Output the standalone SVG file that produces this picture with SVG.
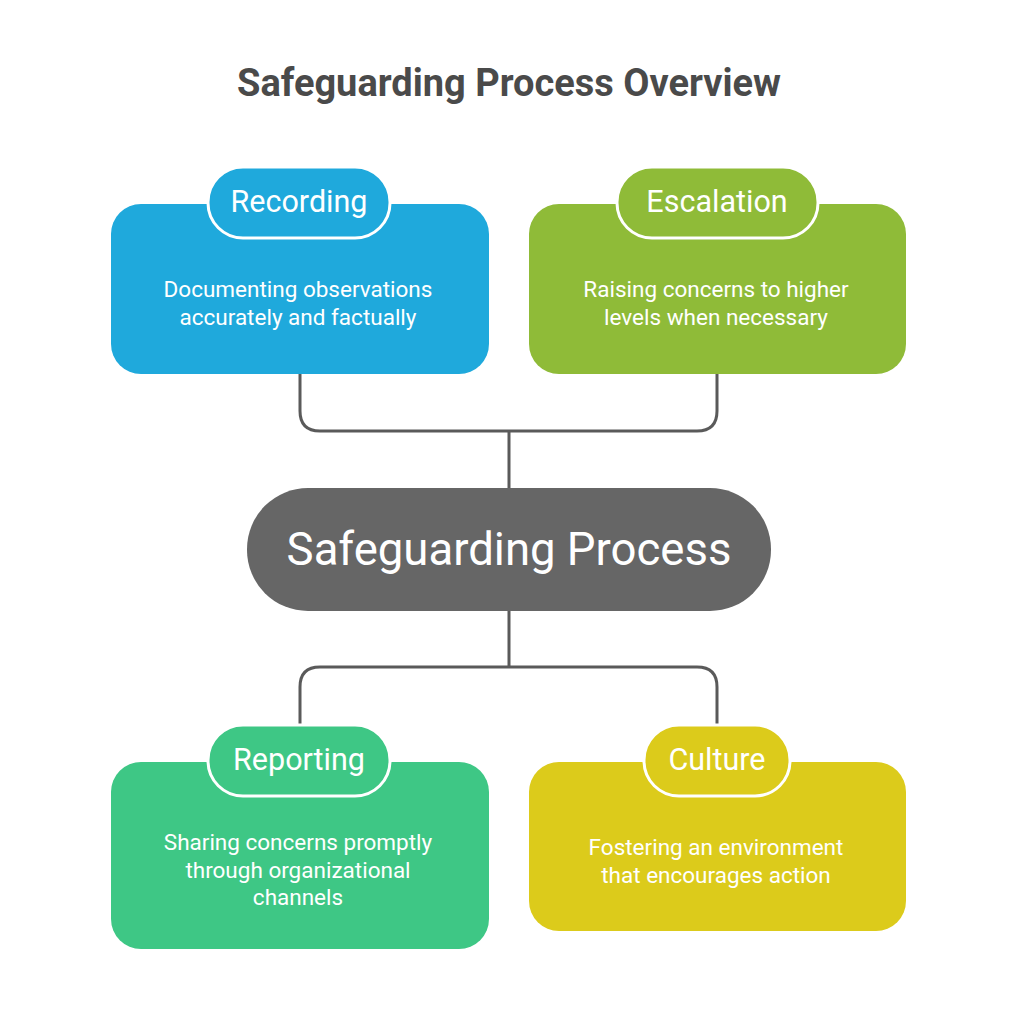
<svg xmlns="http://www.w3.org/2000/svg" width="1018" height="1024" viewBox="0 0 1018 1024">
<style>
text{font-family:Roboto,"Liberation Sans",sans-serif;fill:#fff;text-anchor:middle}
.t{font-size:38px;font-weight:bold;fill:#4a4a4a}
.h{font-size:30.5px}
.d{font-size:22.5px}
.pill{stroke:#fff;stroke-width:3}
.c{fill:none;stroke:#5a5a5a;stroke-width:3}
</style>
<rect width="1018" height="1024" fill="#fff"/>
<text class="t" x="509" y="96">Safeguarding Process Overview</text>
<g id="connectors">
<path class="c" d="M300 374 V411 Q300 431 320 431 H697 Q717 431 717 411 V374 M509 431 V488"/>
<path class="c" d="M509 611 V667 M300 725 V687 Q300 667 320 667 H697 Q717 667 717 687 V725"/>
</g>
<g id="recording">
<rect x="111" y="204" width="378" height="170" rx="30" fill="#1fa9dc"/>
<rect class="pill" x="208" y="167" width="182" height="71" rx="35" fill="#1fa9dc"/>
<text class="h" x="299" y="212">Recording</text>
<text class="d" x="298" y="297">Documenting observations</text>
<text class="d" x="298" y="325">accurately and factually</text>
</g>
<g id="escalation">
<rect x="529" y="204" width="377" height="170" rx="30" fill="#8fbb38"/>
<rect class="pill" x="617" y="167" width="201" height="71" rx="35" fill="#8fbb38"/>
<text class="h" x="717" y="212">Escalation</text>
<text class="d" x="716" y="297">Raising concerns to higher</text>
<text class="d" x="716" y="325">levels when necessary</text>
</g>
<g id="center">
<rect x="247" y="488" width="524" height="123" rx="61" fill="#666"/>
<text x="509" y="565" style="font-size:45.5px">Safeguarding Process</text>
</g>
<g id="reporting">
<rect x="111" y="762" width="378" height="187" rx="30" fill="#3ec785"/>
<rect class="pill" x="208" y="725" width="182" height="71" rx="35" fill="#3ec785"/>
<text class="h" x="299" y="770">Reporting</text>
<text class="d" x="298" y="850">Sharing concerns promptly</text>
<text class="d" x="298" y="878">through organizational</text>
<text class="d" x="298" y="905">channels</text>
</g>
<g id="culture">
<rect x="529" y="762" width="377" height="169" rx="30" fill="#dccb1b"/>
<rect class="pill" x="644" y="725" width="146" height="71" rx="35" fill="#dccb1b"/>
<text class="h" x="717" y="770">Culture</text>
<text class="d" x="716" y="855">Fostering an environment</text>
<text class="d" x="716" y="883">that encourages action</text>
</g>
</svg>
